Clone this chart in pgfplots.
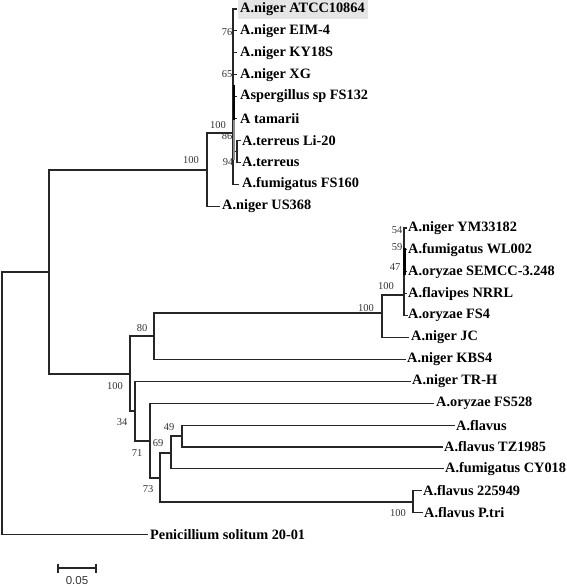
\documentclass[border=0pt]{standalone}
\usepackage{pgfplots}
\pgfplotsset{compat=1.18}
\usepackage{fontspec}
\setmainfont{Liberation Serif}
\newfontfamily\arialfont{Liberation Sans}
\begin{document}
\begin{tikzpicture}
\begin{axis}[hide axis, scale only axis, width=567pt, height=586pt,
  xmin=0, xmax=567, ymin=0, ymax=586, y dir=reverse, clip=false,
  tree/.style={black!85, line width=1.15pt, line cap=rect, line join=miter, mark=none, solid}]
% highlight box
\fill[black!10] (axis cs:238,0.5) rectangle (axis cs:368,19);
% root
\addplot[tree] coordinates {(49,272) (2,272) (2,534.6) (147,534.6)};
% A
\addplot[tree] coordinates {(207,170) (49,170) (49,374) (130,374)};
% B
\addplot[tree] coordinates {(233,133) (207,133) (207,206.1) (219,206.1)};
% B2 comb
\addplot[tree] coordinates {(233,9) (233,184.2)};
\addplot[tree] coordinates {(233,9) (236,9)};
\addplot[tree] coordinates {(233,30.9) (236,30.9)};
\addplot[tree] coordinates {(233,52.8) (236,52.8)};
\addplot[tree] coordinates {(233,74.7) (236,74.7)};
\addplot[tree] coordinates {(233,96.6) (236,96.6)};
\addplot[tree] coordinates {(233,118.5) (236,118.5)};
\addplot[tree] coordinates {(233,151.35) (237,151.35)};
\addplot[tree] coordinates {(240,140.4) (237,140.4) (237,162.3) (240,162.3)};
\addplot[tree] coordinates {(233,184.2) (238,184.2)};
\addplot[tree, black, line width=2.6pt, line cap=butt] coordinates {(234,85) (234,120)};
\addplot[tree, black!45, line width=2.6pt, line cap=butt] coordinates {(234,120) (234,160)};
% C
\addplot[tree] coordinates {(154,336) (130,336) (130,411) (135,411)};
% D
\addplot[tree] coordinates {(382,313) (154,313) (154,359.4) (405,359.4)};
% E
\addplot[tree] coordinates {(404,295) (382,295) (382,337.5) (408,337.5)};
% E2
\addplot[tree] coordinates {(406,228) (404,228) (404,315.6) (407,315.6)};
\addplot[tree] coordinates {(404,249.9) (406,249.9)};
\addplot[tree] coordinates {(404,271.8) (406,271.8)};
\addplot[tree] coordinates {(404,293.7) (406,293.7)};
\addplot[tree, black, line width=2.2pt, line cap=butt] coordinates {(404.5,248) (404.5,275)};
% F
\addplot[tree] coordinates {(410,381.3) (135,381.3) (135,441) (150,441)};
% G
\addplot[tree] coordinates {(433,403.2) (150,403.2) (150,478) (160,478)};
% H
\addplot[tree] coordinates {(171,453) (160,453) (160,502) (413,502)};
% I
\addplot[tree] coordinates {(182,436) (171,436) (171,468.9) (443,468.9)};
% J
\addplot[tree] coordinates {(454,425.1) (182,425.1) (182,447) (442,447)};
% K
\addplot[tree] coordinates {(421,490.8) (413,490.8) (413,512.7) (422,512.7)};
% scale bar
\addplot[tree, line cap=butt] coordinates {(58,568) (96,568)};
\addplot[tree, line cap=butt] coordinates {(58,563.5) (58,572.5)};
\addplot[tree, line cap=butt] coordinates {(96,563.5) (96,572.5)};

% taxon labels
\begin{scope}[every node/.style={anchor=west, inner sep=0pt, font=\fontsize{14.3}{15}\selectfont\bfseries}]
\node at (axis cs:240,9) {A.niger ATCC10864};
\node at (axis cs:240,30.9) {A.niger EIM-4};
\node at (axis cs:240,52.8) {A.niger KY18S};
\node at (axis cs:240,74.7) {A.niger XG};
\node at (axis cs:240,96.6) {Aspergillus sp FS132};
\node at (axis cs:240,118.5) {A tamarii};
\node at (axis cs:242,140.4) {A.terreus Li-20};
\node at (axis cs:242,162.3) {A.terreus};
\node at (axis cs:242,184.2) {A.fumigatus FS160};
\node at (axis cs:222,206.1) {A.niger US368};
\node at (axis cs:408,228) {A.niger YM33182};
\node at (axis cs:408,249.9) {A.fumigatus WL002};
\node at (axis cs:408,271.8) {A.oryzae SEMCC-3.248};
\node at (axis cs:408,293.7) {A.flavipes NRRL};
\node at (axis cs:408,315.6) {A.oryzae FS4};
\node at (axis cs:411,337.5) {A.niger JC};
\node at (axis cs:407,359.4) {A.niger KBS4};
\node at (axis cs:412,381.3) {A.niger TR-H};
\node at (axis cs:436,403.2) {A.oryzae FS528};
\node at (axis cs:456,425.1) {A.flavus};
\node at (axis cs:444,447) {A.flavus TZ1985};
\node at (axis cs:445,468.9) {A.fumigatus CY018};
\node at (axis cs:423,490.8) {A.flavus 225949};
\node at (axis cs:424,512.7) {A.flavus P.tri};
\node at (axis cs:150,534.6) {Penicillium solitum 20-01};
\end{scope}
% bootstrap values
\begin{scope}[every node/.style={inner sep=0pt, font=\fontsize{10.5}{12}\selectfont, text=black!80}]
\node at (axis cs:191,160) {100};
\node at (axis cs:218,125) {100};
\node at (axis cs:227,136) {86};
\node at (axis cs:228,162) {94};
\node at (axis cs:227,32) {76};
\node at (axis cs:227,74) {65};
\node at (axis cs:397,230) {54};
\node at (axis cs:397,247) {59};
\node at (axis cs:395,267) {47};
\node at (axis cs:386,286) {100};
\node at (axis cs:366,308) {100};
\node at (axis cs:142,328) {80};
\node at (axis cs:115,386) {100};
\node at (axis cs:122,422) {34};
\node at (axis cs:137,453) {71};
\node at (axis cs:148,489) {73};
\node at (axis cs:158,443) {69};
\node at (axis cs:169,427) {49};
\node at (axis cs:398,513) {100};
\end{scope}
\node[inner sep=0pt, font=\arialfont\fontsize{11.5}{13}\selectfont, text=black!80] at (axis cs:77,581) {0.05};
\end{axis}
\pgfresetboundingbox
\useasboundingbox (current axis.south west) rectangle (current axis.north east);
\end{tikzpicture}
\end{document}
